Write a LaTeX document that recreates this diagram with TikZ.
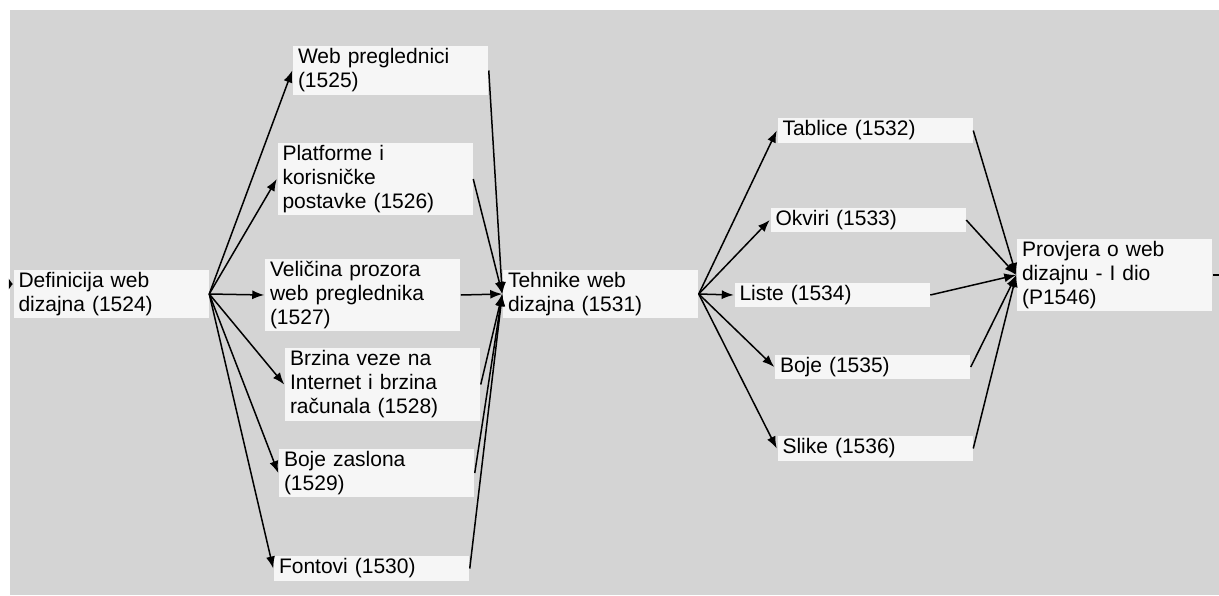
\documentclass[tikz,border=0pt]{standalone}
\usepackage{fontspec}
\setmainfont{Liberation Sans}
\usetikzlibrary{arrows.meta}
\definecolor{panelgray}{RGB}{212,212,212}
\definecolor{boxfill}{RGB}{246,246,246}
\begin{document}
\begin{tikzpicture}[x=0.5pt, y=-0.5pt, >={Latex[length=6pt,width=4.5pt]}, line width=0.75pt,
    topic/.style={rectangle, fill=boxfill, text width=92.5pt, inner xsep=2.5pt, inner ysep=1.3pt, align=left, font=\fontsize{10.5}{12}\selectfont}]
        \useasboundingbox[fill=white] (0,0) rectangle (1219,595);
        \fill[panelgray] (10,10) rectangle (1219,595);

        \node[topic] (definicija) at (111,294) {Definicija web\\dizajna (1524)};
        \node[topic, right of=definicija, node distance=244.75pt] (tehnike) {Tehnike web\\dizajna (1531)};
        \node[topic] (provjera) at (1114.5,275) {Provjera o web\\dizajnu - I dio\\(P1546)};

        \node[topic] (preglednici) at (390.5,70.5) {Web preglednici\\(1525)};
        \node[topic] (platforme) at (375,179) {Platforme i\\korisničke\\postavke (1526)};
        \node[topic] (prozor) at (362.5,295) {Veličina prozora\\web preglednika\\(1527)};
        \node[topic] (brzina) at (382.5,384.5) {Brzina veze na\\Internet i brzina\\računala (1528)};
        \node[topic] (zaslon) at (376.5,473) {Boje zaslona\\(1529)};
        \node[topic] (fontovi) at (371.5,568.5) {Fontovi (1530)};

        \node[topic] (tablice) at (875,130.5) {Tablice (1532)};
        \node[topic] (okviri) at (868,220) {Okviri (1533)};
        \node[topic] (liste) at (832,295) {Liste (1534)};
        \node[topic] (boje) at (872.5,367) {Boje (1535)};
        \node[topic] (slike) at (875,448.5) {Slike (1536)};

        \coordinate (ulaz) at (9,284);
        \coordinate (izlaz) at (1219,275);
        \draw[-{Latex[length=2pt,width=6pt]}] (ulaz) -- (definicija.west |- ulaz);
        \draw (provjera.east) -- (izlaz);

        \foreach \n in {preglednici, platforme, prozor, brzina, zaslon, fontovi} {
            \draw[->] (definicija.east) -- (\n.west);
            \draw[->] (\n.east) -- (tehnike.west);
        }
        \foreach \n in {tablice, okviri, liste, boje, slike} {
            \draw[->] (tehnike.east) -- (\n.west);
            \draw[->] (\n.east) -- (provjera.west);
        }
    \end{tikzpicture}
\end{document}
